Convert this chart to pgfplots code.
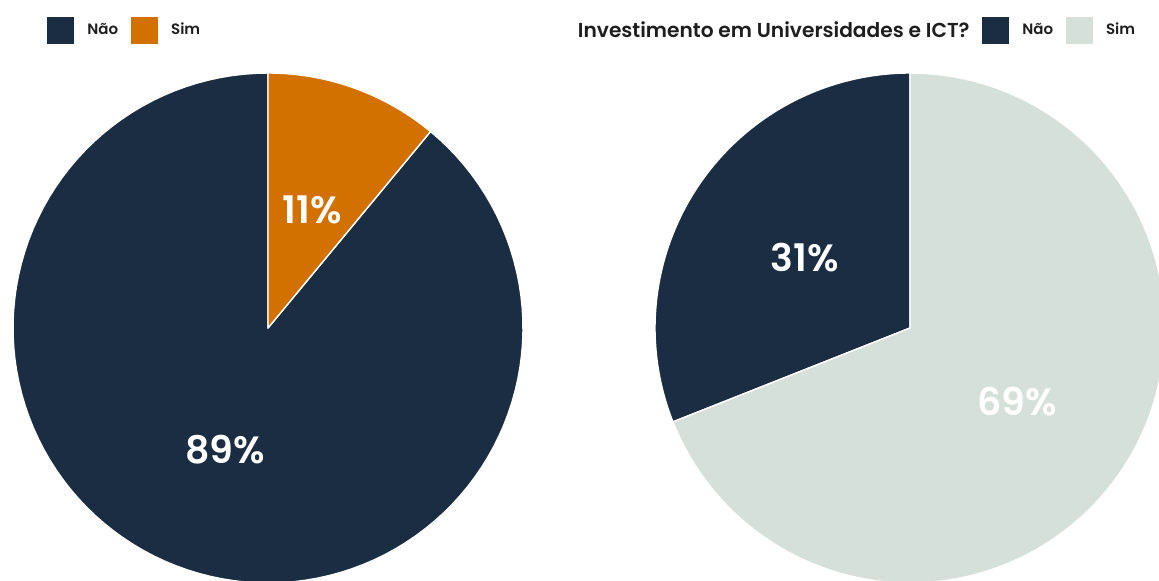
\documentclass[border=0pt]{standalone}
\usepackage{pgfplots}
\pgfplotsset{compat=1.18}
\usepackage{fontspec}
\setmainfont{Poppins}
\newfontfamily\pmed{Poppins Medium}
\newfontfamily\psb{Poppins SemiBold}
\definecolor{navy}{HTML}{1B2D42}
\definecolor{orng}{HTML}{D27000}
\definecolor{lgray}{HTML}{D6E0DA}
\definecolor{txt}{HTML}{1E1E1E}
\pgfplotsset{
  piestyle/.style={
    width=255pt, height=255pt, scale only axis,
    xmin=-1, xmax=1, ymin=-1, ymax=1,
    hide axis, clip=false, anchor=center,
    legend columns=-1,
    legend image code/.code={\fill[##1,draw=none] (0pt,-6.75pt) rectangle (13.5pt,6.75pt);},
    legend style={draw=none, fill=none, inner sep=0pt, anchor=west,
      font=\psb\fontsize{7.5}{9}\selectfont\color{txt},
      nodes={inner sep=0pt},
      /tikz/every odd column/.style={column sep=6.5pt},
      /tikz/every even column/.style={column sep=6.5pt}},
  },
  wedge/.style={draw=white, line width=0.7pt, samples=120, line join=round},
}
\tikzset{pct/.style={font=\psb\fontsize{19}{22}\selectfont, text=white, anchor=center}}
\begin{document}
\begin{tikzpicture}
\begin{scope}
\clip (0pt,0pt) rectangle (579.5pt,290pt);
\fill[white] (0pt,0pt) rectangle (579.5pt,290pt);
% left pie
\begin{axis}[piestyle, at={(134pt,126pt)},
  legend style={at={(axis description cs:0.0667,1.0843)}}]
\addplot[wedge, fill=navy, domain=11:100] ({sin(3.6*x)},{cos(3.6*x)}) -- (axis cs:0,0) -- cycle;
\addlegendentry{Não}
\addplot[wedge, fill=orng, domain=0:11] ({sin(3.6*x)},{cos(3.6*x)}) -- (axis cs:0,0) -- cycle;
\addlegendentry{Sim}
\node[pct] at (axis cs:0.173,0.463) {11\%};
\node[pct] at (axis cs:-0.169,-0.478) {89\%};
\end{axis}
% right pie
\begin{axis}[piestyle, at={(455pt,126pt)},
  legend style={at={(axis description cs:0.641,1.0843)}}]
\addplot[wedge, fill=navy, domain=69:100] ({sin(3.6*x)},{cos(3.6*x)}) -- (axis cs:0,0) -- cycle;
\addlegendentry{Não}
\addplot[wedge, fill=lgray, domain=0:69] ({sin(3.6*x)},{cos(3.6*x)}) -- (axis cs:0,0) -- cycle;
\addlegendentry{Sim}
\node[pct] at (axis cs:-0.412,0.278) {31\%};
\node[pct] at (axis cs:0.420,-0.290) {69\%};
\node[anchor=east, inner sep=0pt, font=\psb\fontsize{10.1}{12}\selectfont, text=txt]
  at (axis description cs:0.6176,1.0843) {Investimento em Universidades e ICT?};
\end{axis}
\end{scope}
\pgfresetboundingbox
\path[use as bounding box] (0pt,0pt) rectangle (579.5pt,290pt);
\end{tikzpicture}
\end{document}
